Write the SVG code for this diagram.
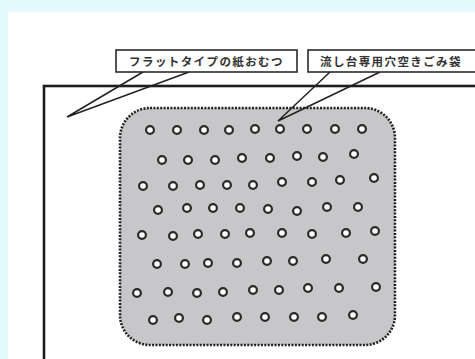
<svg xmlns="http://www.w3.org/2000/svg" width="475" height="359" viewBox="0 0 475 359">
<style>
.lbl{fill:#fff;stroke:#2a2a2a;stroke-width:1.6}
.txt{font-family:"Noto Sans CJK JP","Noto Sans CJK SC",sans-serif;font-size:11.5px;font-weight:bold;fill:#333;letter-spacing:1.4px}
.call{fill:none;stroke:#222;stroke-width:1.5}
.hole{fill:#fff;stroke:#2a2a2a;stroke-width:2.2}
</style>
<rect x="0" y="0" width="475" height="359" fill="#e3fbfe"/>
<rect x="8" y="12" width="467" height="347" fill="#fff"/>
<rect id="frame" x="44" y="86" width="460" height="300" fill="none" stroke="#1e1e1e" stroke-width="2.6"/>
<g id="bag">
<rect x="120" y="108" width="275" height="237" rx="30" ry="30" fill="#c7c7c9" stroke="#222" stroke-width="2.6" stroke-dasharray="2 1.4"/>
<g id="holes">
<circle class="hole" cx="150" cy="130" r="3.9"/><circle class="hole" cx="177" cy="130" r="3.9"/><circle class="hole" cx="204" cy="130" r="3.9"/><circle class="hole" cx="229" cy="130" r="3.9"/><circle class="hole" cx="255" cy="129" r="3.9"/><circle class="hole" cx="280" cy="129" r="3.9"/><circle class="hole" cx="307" cy="129" r="3.9"/><circle class="hole" cx="335" cy="129" r="3.9"/><circle class="hole" cx="362" cy="129" r="3.9"/>
<circle class="hole" cx="162" cy="160" r="3.9"/><circle class="hole" cx="188" cy="160" r="3.9"/><circle class="hole" cx="215" cy="160" r="3.9"/><circle class="hole" cx="242" cy="158" r="3.9"/><circle class="hole" cx="270" cy="158" r="3.9"/><circle class="hole" cx="297" cy="156" r="3.9"/><circle class="hole" cx="323" cy="157" r="3.9"/><circle class="hole" cx="354" cy="154" r="3.9"/>
<circle class="hole" cx="143" cy="186" r="3.9"/><circle class="hole" cx="173" cy="186" r="3.9"/><circle class="hole" cx="200" cy="185" r="3.9"/><circle class="hole" cx="227" cy="185" r="3.9"/><circle class="hole" cx="253" cy="185" r="3.9"/><circle class="hole" cx="282" cy="182" r="3.9"/><circle class="hole" cx="312" cy="182" r="3.9"/><circle class="hole" cx="340" cy="180" r="3.9"/><circle class="hole" cx="374" cy="178" r="3.9"/>
<circle class="hole" cx="158" cy="210" r="3.9"/><circle class="hole" cx="187" cy="208" r="3.9"/><circle class="hole" cx="213" cy="208" r="3.9"/><circle class="hole" cx="240" cy="208" r="3.9"/><circle class="hole" cx="268" cy="209" r="3.9"/><circle class="hole" cx="297" cy="211" r="3.9"/><circle class="hole" cx="327" cy="207" r="3.9"/><circle class="hole" cx="358" cy="207" r="3.9"/>
<circle class="hole" cx="142" cy="235" r="3.9"/><circle class="hole" cx="173" cy="236" r="3.9"/><circle class="hole" cx="198" cy="234" r="3.9"/><circle class="hole" cx="225" cy="234" r="3.9"/><circle class="hole" cx="250" cy="233" r="3.9"/><circle class="hole" cx="282" cy="233" r="3.9"/><circle class="hole" cx="312" cy="234" r="3.9"/><circle class="hole" cx="346" cy="233" r="3.9"/><circle class="hole" cx="375" cy="231" r="3.9"/>
<circle class="hole" cx="157" cy="264" r="3.9"/><circle class="hole" cx="185" cy="264" r="3.9"/><circle class="hole" cx="208" cy="263" r="3.9"/><circle class="hole" cx="237" cy="263" r="3.9"/><circle class="hole" cx="267" cy="261" r="3.9"/><circle class="hole" cx="293" cy="261" r="3.9"/><circle class="hole" cx="326" cy="259" r="3.9"/><circle class="hole" cx="363" cy="259" r="3.9"/>
<circle class="hole" cx="137" cy="293" r="3.9"/><circle class="hole" cx="168" cy="292" r="3.9"/><circle class="hole" cx="197" cy="293" r="3.9"/><circle class="hole" cx="223" cy="292" r="3.9"/><circle class="hole" cx="253" cy="290" r="3.9"/><circle class="hole" cx="279" cy="290" r="3.9"/><circle class="hole" cx="308" cy="288" r="3.9"/><circle class="hole" cx="339" cy="288" r="3.9"/><circle class="hole" cx="376" cy="287" r="3.9"/>
<circle class="hole" cx="153" cy="320" r="3.9"/><circle class="hole" cx="179" cy="318" r="3.9"/><circle class="hole" cx="207" cy="320" r="3.9"/><circle class="hole" cx="237" cy="317" r="3.9"/><circle class="hole" cx="265" cy="317" r="3.9"/><circle class="hole" cx="294" cy="317" r="3.9"/><circle class="hole" cx="322" cy="317" r="3.9"/><circle class="hole" cx="353" cy="315" r="3.9"/>
</g>
</g>
<g id="connectors">
<polyline class="call" points="143,72 67,117 189,72"/>
<polyline class="call" points="330,72 278,121 380,72"/>
</g>
<g id="label-diaper">
<rect class="lbl" x="116" y="50" width="181" height="22"/>
<text class="txt" x="206.5" y="65.5" text-anchor="middle">フラットタイプの紙おむつ</text>
</g>
<g id="label-bag">
<rect class="lbl" x="308" y="50" width="180" height="22"/>
<text class="txt" x="320" y="65.5">流し台専用穴空きごみ袋</text>
</g>
</svg>
